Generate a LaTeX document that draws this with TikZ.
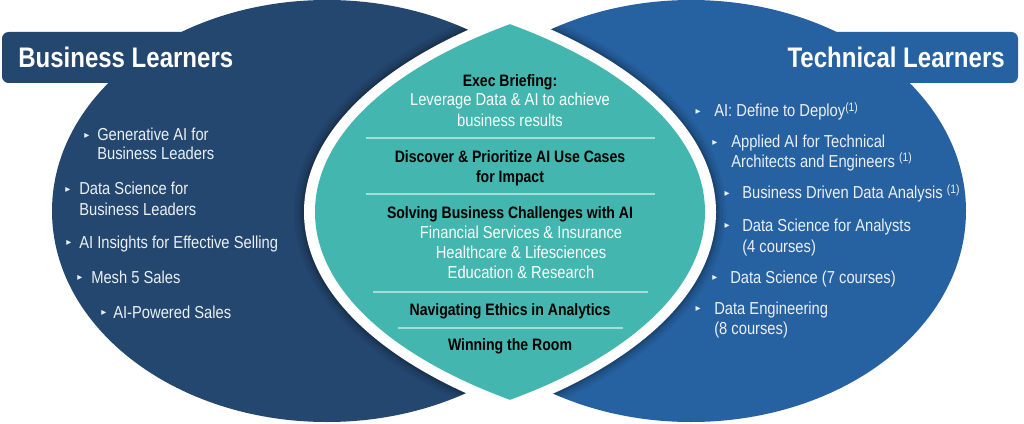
\documentclass[tikz,border=0pt]{standalone}
\usepackage{fontspec}
\setmainfont{Liberation Sans}[FakeStretch=0.85]
\newfontfamily\symfont{DejaVu Sans}
\definecolor{navy}{HTML}{24476F}
\definecolor{blue}{HTML}{2661A1}
\definecolor{teal}{HTML}{43B6AF}
\definecolor{itemtext}{HTML}{EBF0F6}
\definecolor{sepcol}{HTML}{A6DDD8}
\tikzset{
  item/.style={anchor=base west, inner sep=0pt, text=itemtext, font=\fontsize{13}{15}\selectfont},
  bul/.style={inner sep=0pt, text=itemtext, font=\symfont\fontsize{7.5}{7.5}\selectfont},
  ctitle/.style={anchor=base, inner sep=0pt, text=black, font=\bfseries\fontsize{12.4}{14}\selectfont},
  csub/.style={anchor=base, inner sep=0pt, text=white, font=\fontsize{13}{15}\selectfont},
  tabtitle/.style={inner sep=0pt, text=white, font=\bfseries\fontsize{21.2}{24}\selectfont},
  sepline/.style={draw=sepcol, line width=0.9pt},
}
\begin{document}
\begin{tikzpicture}[x=0.75pt, y=-0.75pt]
\useasboundingbox (0,0) rectangle (1024,424);
\fill[white] (0,0) rectangle (1024,424);
% outer ellipses
\fill[navy] (327,211) ellipse [x radius=275, y radius=211];
\fill[blue] (691,211) ellipse [x radius=275, y radius=211];
% tabs
\fill[navy, rounded corners=5] (2,32) rectangle (250,83);
\fill[blue, rounded corners=5] (770,32) rectangle (1018,83);
% soft shadow round the lens
\foreach \k/\o in {10/0.05, 7/0.07, 4/0.09, 2/0.10} {
  \begin{scope}
    \clip (327,211) ellipse [x radius=275, y radius=211];
    \clip (815,212) ellipse [x radius=511+\k, y radius=248+\k];
    \fill[black, opacity=\o] (205,212) ellipse [x radius=511+\k, y radius=248+\k];
  \end{scope}
  \begin{scope}
    \clip (691,211) ellipse [x radius=275, y radius=211];
    \clip (815,212) ellipse [x radius=511+\k, y radius=248+\k];
    \fill[black, opacity=\o] (205,212) ellipse [x radius=511+\k, y radius=248+\k];
  \end{scope}
}
% white border lens
\begin{scope}
  \clip (815,212) ellipse [x radius=511, y radius=248];
  \fill[white] (205,212) ellipse [x radius=511, y radius=248];
\end{scope}
% teal lens
\begin{scope}
  \clip (815,212) ellipse [x radius=500, y radius=237];
  \fill[teal] (205,212) ellipse [x radius=500, y radius=237];
\end{scope}
% separators
\draw[sepline] (366,138) -- (655,138);
\draw[sepline] (366,194) -- (655,194);
\draw[sepline] (373,292) -- (648,292);
\draw[sepline] (398,328) -- (623,328);
% titles
\node[tabtitle, anchor=base west] (bl) at (18,68) {Business Learners};
\node[tabtitle, anchor=base east] (tl) at (1005,68) {Technical Learners};
% left items
\node[bul] (b1) at (87,136) {▸};
\node[item] (g1) at (97,141) {Generative AI for};
\node[item] (g2) at (97,160) {Business Leaders};
\node[bul] (b2) at (68,190) {▸};
\node[item] (d1) at (79,195) {Data Science for};
\node[item] (d2) at (79,215) {Business Leaders};
\node[bul] (b3) at (69,243) {▸};
\node[item] (ai) at (79,248) {AI Insights for Effective Selling};
\node[bul] (b4) at (80,278) {▸};
\node[item] (ms) at (91,283) {Mesh 5 Sales};
\node[bul] (b5) at (104,313) {▸};
\node[item] (ap) at (113,318) {AI-Powered Sales};
% right items
\node[bul] (c1) at (698,112) {▸};
\node[item] (r1) at (714,117) {AI: Define to Deploy\textsuperscript{(1)}};
\node[bul] (c2) at (715,143) {▸};
\node[item] (r2a) at (731,148) {Applied AI for Technical};
\node[item] (r2b) at (731,167) {Architects and Engineers \textsuperscript{(1)}};
\node[bul] (c3) at (727,194) {▸};
\node[item] (r3) at (742,199) {Business Driven Data Analysis \textsuperscript{(1)}};
\node[bul] (c4) at (727,226) {▸};
\node[item] (r4a) at (742,231) {Data Science for Analysts};
\node[item] (r4b) at (742,252) {(4 courses)};
\node[bul] (c5) at (715,278) {▸};
\node[item] (r5) at (730,283) {Data Science (7 courses)};
\node[bul] (c6) at (698,309) {▸};
\node[item] (r6a) at (714,314) {Data Engineering};
\node[item] (r6b) at (714,334) {(8 courses)};
% centre
\node[ctitle] (e1) at (510,87) {Exec Briefing:};
\node[csub] (e2) at (510,106) {Leverage Data \& AI to achieve};
\node[csub] (e3) at (510,127) {business results};
\node[ctitle] (p1) at (510,163) {Discover \& Prioritize AI Use Cases};
\node[ctitle] (p2) at (510,183) {for Impact};
\node[ctitle] (s1) at (510,219) {Solving Business Challenges with AI};
\node[csub] (s2) at (521,238) {Financial Services \& Insurance};
\node[csub] (s3) at (521,258) {Healthcare \& Lifesciences};
\node[csub] (s4) at (521,278) {Education \& Research};
\node[ctitle] (n1) at (510,315) {Navigating Ethics in Analytics};
\node[ctitle] (w1) at (510,350) {Winning the Room};
\end{tikzpicture}
\end{document}
